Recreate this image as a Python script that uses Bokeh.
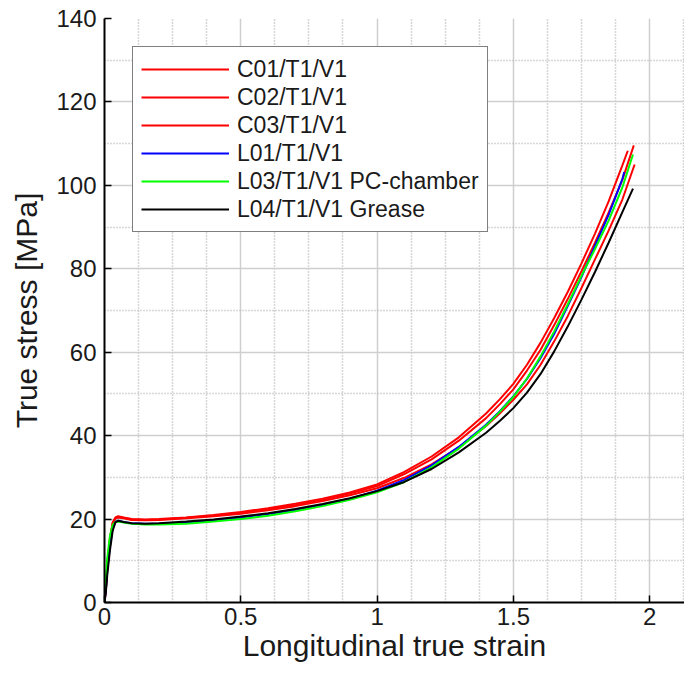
from bokeh.plotting import figure
from bokeh.models import FixedTicker, Legend, LegendItem
from bokeh.embed import file_html
from bokeh.resources import INLINE

# ---- data ----
strain_grid = [0, 0.005, 0.01, 0.02, 0.03, 0.04, 0.05, 0.07, 0.1, 0.15, 0.2, 0.3, 0.4,
               0.5, 0.6, 0.7, 0.8, 0.9, 1.0, 1.1, 1.2, 1.3, 1.4, 1.45, 1.5, 1.55, 1.6,
               1.65, 1.7, 1.75, 1.8, 1.85, 1.9]

c01_stress = [0, 4.0, 9.0, 15.5, 19.2, 20.4, 20.7, 20.4, 20.0, 19.9, 20.0, 20.4, 21.0,
              21.7, 22.6, 23.7, 24.9, 26.4, 28.3, 31.3, 35.0, 39.6, 45.3, 48.7, 52.4, 57.0,
              62.3, 68.2, 74.5, 81.3, 88.5, 96.2, 104.8]
c01_end = (1.92, 108.3)

c02_stress = [0, 3.5, 8.5, 15.0, 19.0, 20.2, 20.5, 20.3, 19.9, 19.8, 19.9, 20.3, 20.8,
              21.5, 22.4, 23.4, 24.6, 26.1, 27.9, 30.8, 34.3, 38.8, 44.2, 47.5, 51.1, 55.6,
              60.6, 66.5, 72.8, 79.4, 86.3, 93.5, 101.3]
c02_end = (1.942, 109.6)

c03_stress = [0, 3.0, 8.0, 14.5, 18.8, 20.1, 20.4, 20.2, 19.8, 19.7, 19.8, 20.2, 20.7,
              21.3, 22.1, 23.1, 24.3, 25.7, 27.4, 29.9, 33.1, 37.2, 42.3, 45.3, 48.6, 52.3,
              57.0, 62.6, 68.7, 75.4, 82.3, 89.2, 96.6]
c03_end = (1.945, 105.0)

l01_stress = [0, 3.0, 7.5, 13.5, 17.8, 19.3, 19.6, 19.3, 19.0, 18.9, 18.9, 19.2, 19.7,
              20.4, 21.2, 22.2, 23.4, 24.9, 26.8, 29.4, 32.9, 37.3, 42.6, 45.8, 49.4, 53.6,
              58.6, 64.4, 71.1, 78.0, 85.6, 93.0, 101.5]
l01_end = (1.907, 103.2)

l03_stress = [0, 5.5, 10.5, 16.0, 18.6, 19.3, 19.4, 19.2, 18.9, 18.7, 18.7, 18.9, 19.4,
              20.0, 20.8, 21.9, 23.1, 24.6, 26.4, 28.9, 32.4, 36.9, 42.4, 45.7, 49.3, 53.7,
              59.0, 65.0, 71.5, 78.3, 84.8, 91.6, 99.5]
l03_end = (1.939, 107.4)

l04_stress = [0, 2.5, 6.5, 12.5, 17.2, 19.2, 19.6, 19.3, 19.0, 18.9, 19.0, 19.4, 19.9,
              20.6, 21.4, 22.4, 23.6, 25.0, 26.7, 28.9, 32.0, 36.0, 40.7, 43.5, 46.6, 50.3,
              54.8, 60.2, 66.2, 72.6, 79.3, 86.3, 93.6]
l04_end = (1.939, 99.2)

series_names = ["C01/T1/V1", "C02/T1/V1", "C03/T1/V1", "L01/T1/V1",
                "L03/T1/V1 PC-chamber", "L04/T1/V1 Grease"]
series_colors = ["#ff0000", "#ff0000", "#ff0000", "#0000ff", "#00ff00", "#000000"]

x_ticks = [0, 0.5, 1, 1.5, 2]
x_tick_labels = ["0", "0.5", "1", "1.5", "2"]
x_minor = [0.125, 0.25, 0.375, 0.625, 0.75, 0.875, 1.125, 1.25, 1.375,
           1.625, 1.75, 1.875, 2.125]
y_ticks = [0, 20, 40, 60, 80, 100, 120, 140]
y_minor = [10, 30, 50, 70, 90, 110, 130]

FONT = "Liberation Sans"
TXT = "#1a1a1a"

p = figure(width=684, height=669, output_backend="svg", toolbar_location=None,
           x_range=(0, 2.128), y_range=(0, 140),
           min_border_left=104, min_border_right=0, min_border_top=18, min_border_bottom=67)
p.outline_line_color = None
p.background_fill_color = "white"
p.border_fill_color = "white"

for ax in (p.xaxis[0], p.yaxis[0]):
    ax.axis_line_color = "black"
    ax.axis_line_width = 2
    ax.major_tick_line_color = "black"
    ax.major_tick_line_width = 1.5
    ax.major_tick_in = 7
    ax.major_tick_out = 0
    ax.minor_tick_in = 0
    ax.minor_tick_out = 0
    ax.major_label_text_font = FONT
    ax.major_label_text_font_size = "24px"
    ax.major_label_text_color = TXT
    ax.axis_label_text_font = FONT
    ax.axis_label_text_font_size = "30px"
    ax.axis_label_text_font_style = "normal"
    ax.axis_label_text_color = TXT

p.xaxis.ticker = FixedTicker(ticks=x_ticks, minor_ticks=x_minor)
p.xaxis.major_label_overrides = {t: l for t, l in zip(x_ticks, x_tick_labels)}
p.yaxis.ticker = FixedTicker(ticks=y_ticks, minor_ticks=y_minor)
p.xaxis.axis_label = "Longitudinal true strain"
p.yaxis.axis_label = "True stress [MPa]"
p.xaxis.major_label_standoff = 5
p.yaxis.major_label_standoff = 8
p.xaxis.axis_label_standoff = 1
p.yaxis.axis_label_standoff = 10

for g in (p.xgrid[0], p.ygrid[0]):
    g.grid_line_color = "#cfcfcf"
    g.grid_line_width = 1.5
    g.minor_grid_line_color = "#b0b0b0"
    g.minor_grid_line_width = 1.5
    g.minor_grid_line_dash = "1 2"

all_stress = [c01_stress, c02_stress, c03_stress, l01_stress, l03_stress, l04_stress]
all_end = [c01_end, c02_end, c03_end, l01_end, l03_end, l04_end]

items = []
for name, color, st, end in zip(series_names, series_colors, all_stress, all_end):
    xs = strain_grid + [end[0]]
    ys = st + [end[1]]
    r = p.line(xs, ys, line_color=color, line_width=2)
    items.append(LegendItem(label=name, renderers=[r]))

legend = Legend(items=items, location="top_left", margin=28, padding=8, spacing=0,
                glyph_width=88, glyph_height=28, label_height=28, label_standoff=8,
                label_text_font=FONT, label_text_font_size="23px", label_text_color=TXT,
                border_line_color="black", border_line_width=1.5,
                background_fill_color="white", background_fill_alpha=1.0)
p.add_layout(legend, "center")

open("out.html", "w").write(file_html(p, INLINE))
